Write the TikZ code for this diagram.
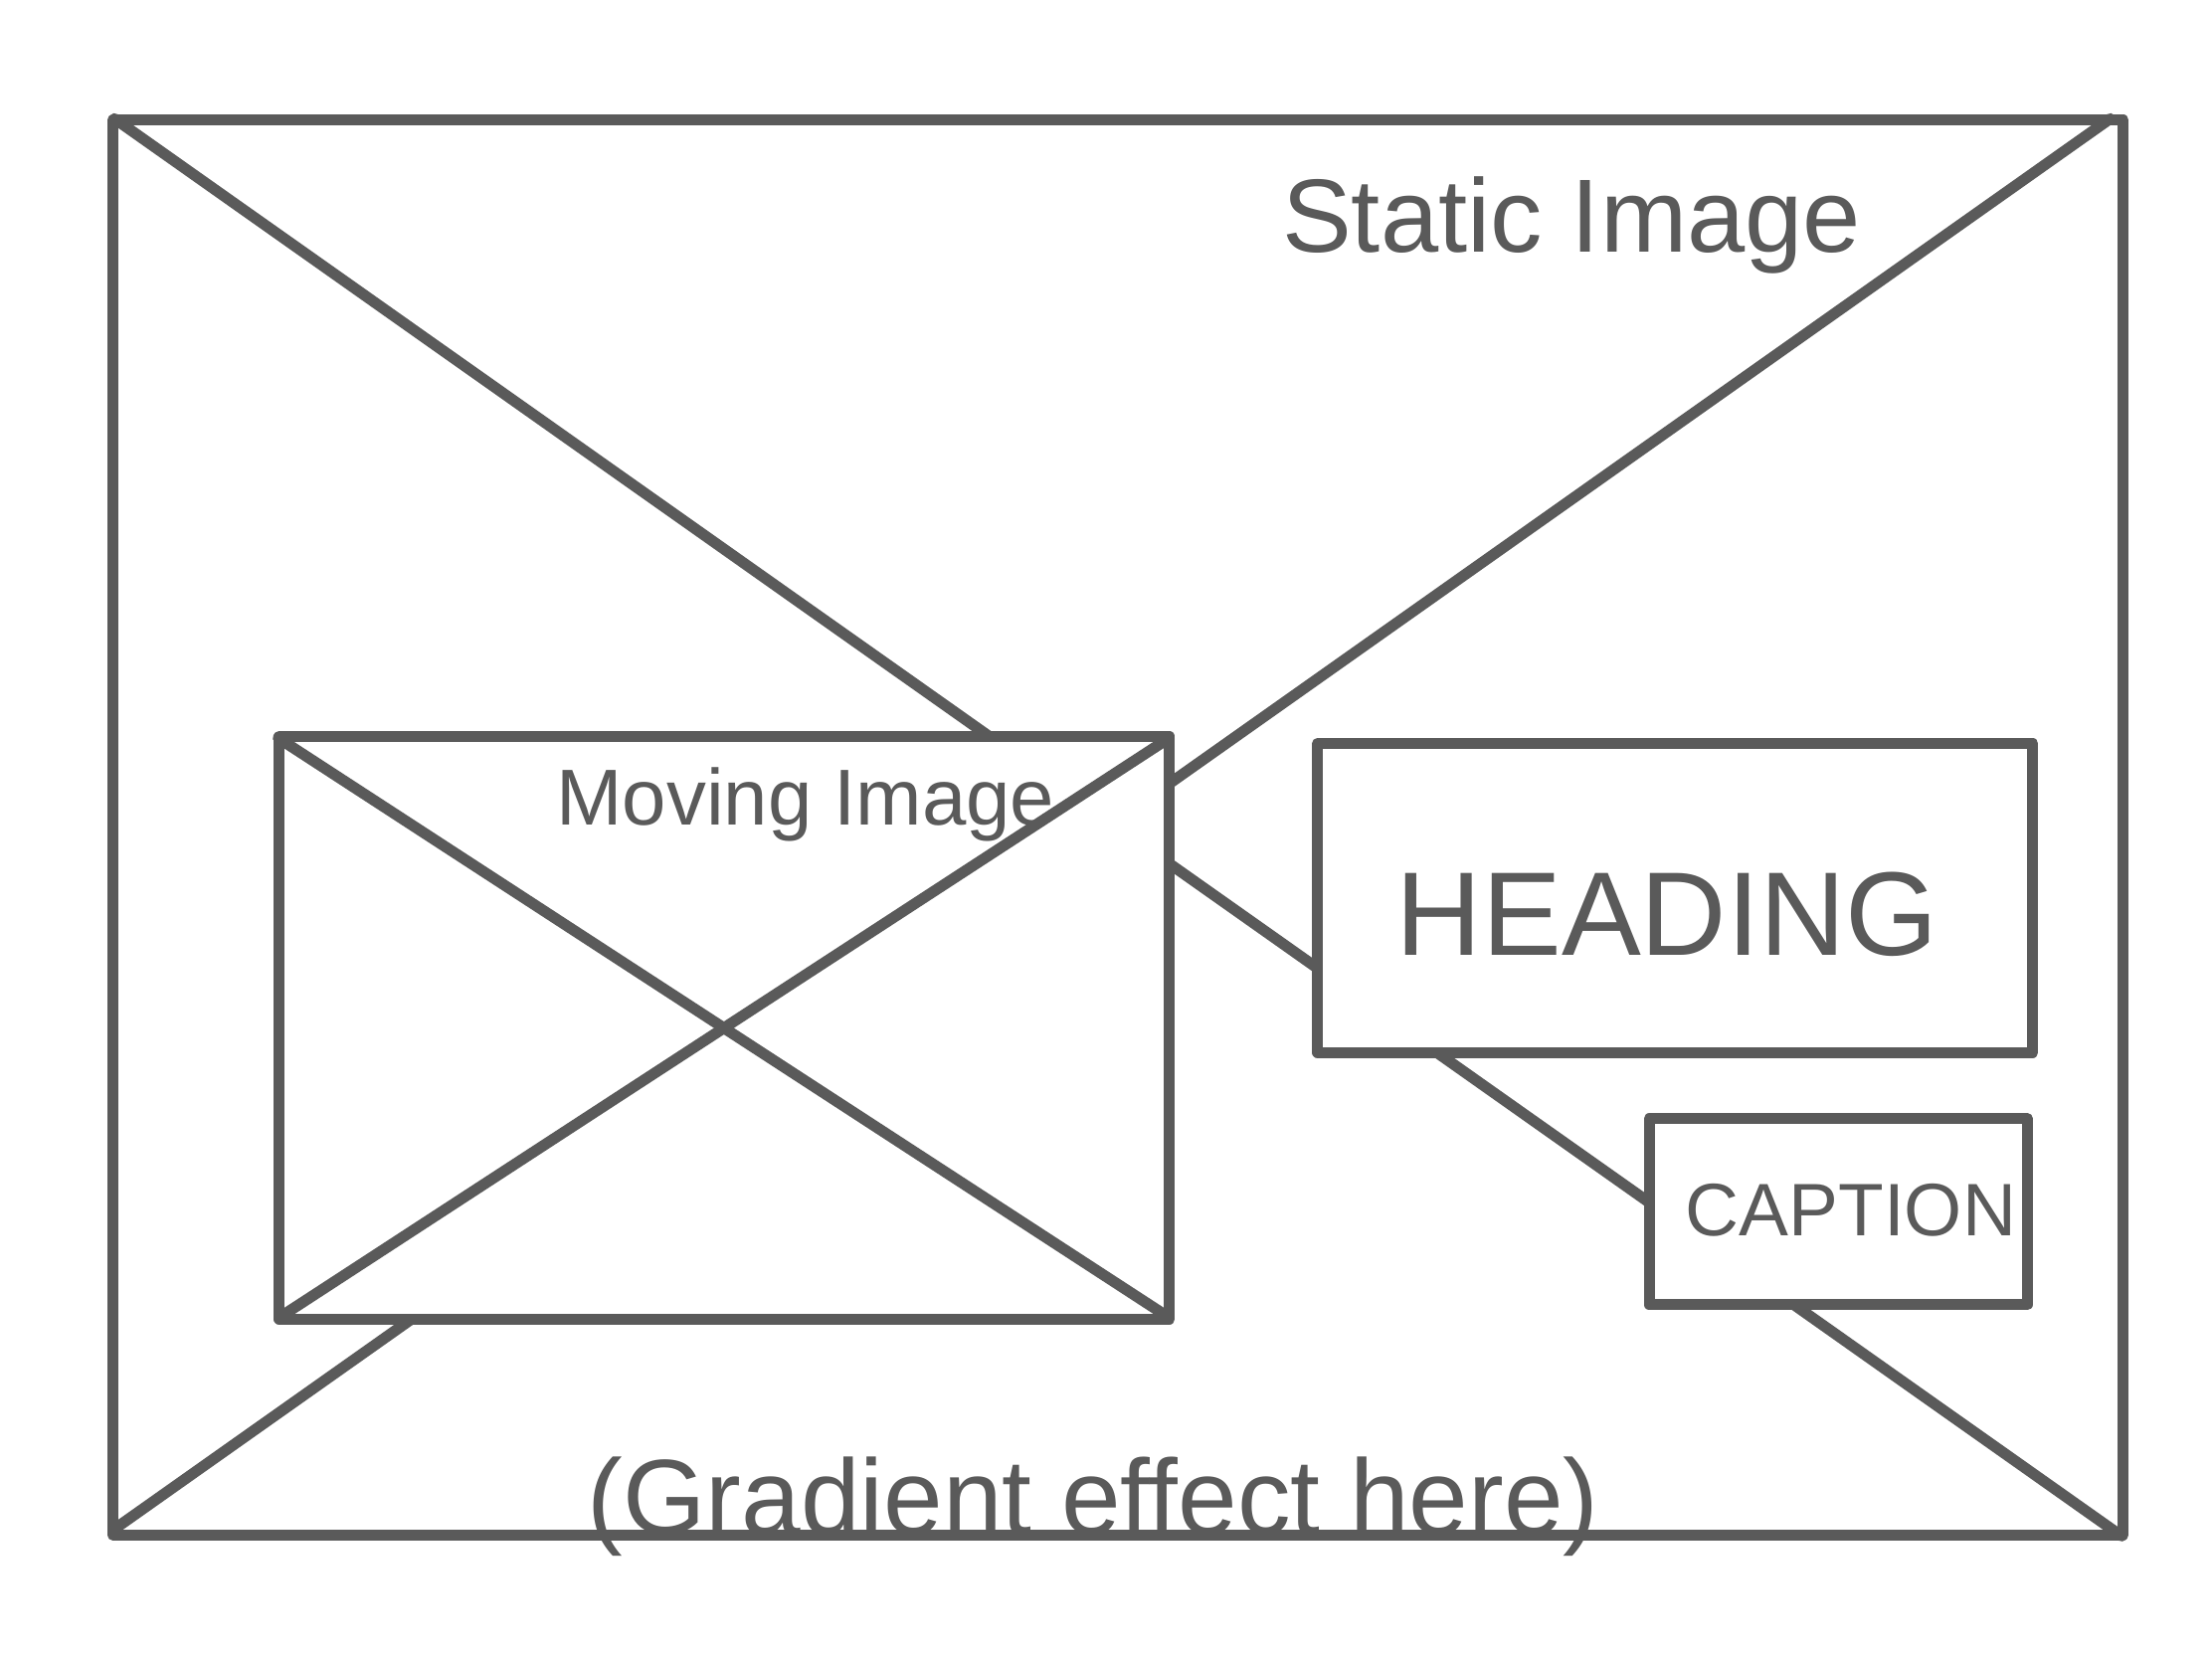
\documentclass[tikz,border=0pt]{standalone}
\usepackage{fontspec}
\setmainfont{Liberation Sans}
\definecolor{pen}{HTML}{5A5A5A}
\begin{document}
\begin{tikzpicture}

      \tikzset{frame/.style={draw=pen, line width=2.2pt, line join=round, fill=white, inner sep=0pt}}
      \tikzset{pencil/.style={draw=pen, line width=2.2pt, line cap=round}}
      \tikzset{scribble/.style={text=pen, inner sep=0pt}}
      \useasboundingbox (0,0) rectangle (15.68,11.76);
%% Outer frame
      	\node[frame, minimum width=14.25cm, minimum height=10.03cm] (static) at (7.925,5.895) {};
      	\coordinate (tl) at ([shift={(0.05,-0.03)}]static.north west);
      	\coordinate (tr) at ([shift={(-0.13,-0.03)}]static.north east);
      	\coordinate (bl) at ([shift={(0.05,0.08)}]static.south west);
      	\coordinate (br) at ([shift={(-0.05,0.03)}]static.south east);
		\path [pencil] (tl) edge (br);
		\path [pencil] (tr) edge (bl);
%% Boxes
      	\node[frame, minimum width=6.31cm, minimum height=4.13cm] (moving) at (5.135,4.475) {};
      	\node[frame, minimum width=5.07cm, minimum height=2.19cm] (heading) at (11.875,5.395) {};
      	\node[frame, minimum width=2.68cm, minimum height=1.32cm] (caption) at (13.03,3.17) {};
%Moving image cross
		\path [pencil] ([shift={(0.03,-0.05)}]moving.north west) edge ([shift={(-0.09,0.08)}]moving.south east);
		\path [pencil] ([shift={(0.04,0.05)}]moving.south west) edge ([shift={(-0.04,-0.05)}]moving.north east);
%Texts
      	\node[scribble, font=\fontsize{21}{24}\selectfont] (statictext) at (11.14,10.16) {Static Image};
      	\node[scribble, font=\fontsize{16}{19}\selectfont] (movingtext) at (5.71,6.06) {Moving Image};
      	\node[scribble, font=\fontsize{24}{28}\selectfont] (headingtext) at (11.82,5.28) {HEADING};
      	\node[scribble, font=\fontsize{15}{18}\selectfont] (captiontext) at (13.12,3.18) {CAPTION};
      	\node[scribble, font=\fontsize{21.5}{25}\selectfont] (gradienttext) at (7.75,1.08) {(Gradient effect here)};

	\end{tikzpicture}
\end{document}
